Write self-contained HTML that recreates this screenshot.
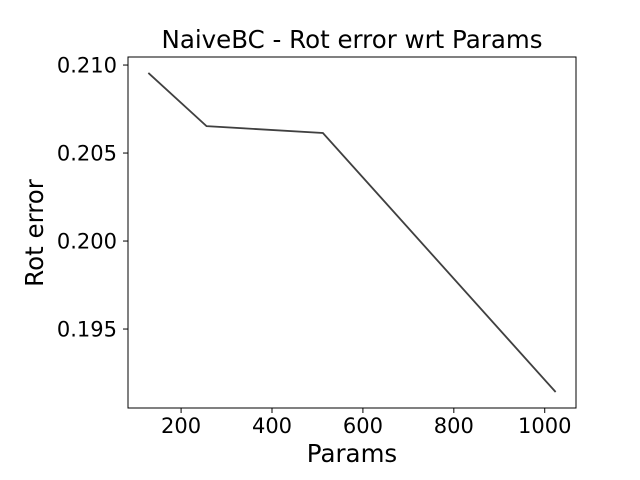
<!DOCTYPE html>
<html><head><meta charset="utf-8"><style>
body{margin:0;background:#fff;}
svg{display:block;font-family:"DejaVu Sans","Liberation Sans",sans-serif;}
</style></head><body>
<svg id="chart" width="640" height="480">
<rect width="640" height="480" fill="#fff"/>
<text x="352" y="48" font-size="24.5" text-anchor="middle" fill="#000">NaiveBC - Rot error wrt Params</text>
<text x="352" y="462" font-size="24.5" text-anchor="middle" fill="#000">Params</text>
<text x="0" y="0" font-size="24.5" text-anchor="middle" fill="#000" transform="translate(43,233) rotate(-90)">Rot error</text>
<g id="ticks"></g>
<g id="series"></g>
<rect x="128" y="57" width="448" height="351" fill="none" stroke="#000" stroke-width="1"/>
</svg>
<script>
const params = [128, 256, 512, 1024];
const rotError = [0.20955, 0.20653, 0.20614, 0.19142];
const xTicks = [200, 400, 600, 800, 1000];
const yTicks = [0.195, 0.200, 0.205, 0.210];
const yTickLabels = ["0.195", "0.200", "0.205", "0.210"];

const L=128,R=576,T=57,B=408;
const xmin=83.2,xmax=1068.8;
const ymin=0.19142-0.000907,ymax=0.20955+0.000907;
function X(v){return L+(v-xmin)/(xmax-xmin)*(R-L);}
function Y(v){return B-(v-ymin)/(ymax-ymin)*(B-T);}
const NS="http://www.w3.org/2000/svg";
const tg=document.getElementById('ticks');
xTicks.forEach(t=>{
  const l=document.createElementNS(NS,'line');
  l.setAttribute('x1',X(t));l.setAttribute('x2',X(t));l.setAttribute('y1',B);l.setAttribute('y2',B+5);l.setAttribute('stroke','#000');
  
  
  tg.appendChild(l);
  const tx=document.createElementNS(NS,'text');
  tx.setAttribute('x',X(t));tx.setAttribute('y',B+25);tx.setAttribute('font-size','21');tx.setAttribute('text-anchor','middle');
  tx.textContent=t;
  
  
  tg.appendChild(tx);
});
yTicks.forEach((t,i)=>{
  const l=document.createElementNS(NS,'line');
  l.setAttribute('x1',L-5);l.setAttribute('x2',L);l.setAttribute('y1',Y(t));l.setAttribute('y2',Y(t));l.setAttribute('stroke','#000');
  
  
  tg.appendChild(l);
  const tx=document.createElementNS(NS,'text');
  tx.setAttribute('x',L-11);tx.setAttribute('y',Y(t)+7.5);tx.setAttribute('font-size','21');tx.setAttribute('text-anchor','end');
  tx.textContent=yTickLabels[i];
  
  
  tg.appendChild(tx);
});
const p=document.createElementNS(NS,'polyline');
p.setAttribute('points',params.map((v,i)=>X(v)+','+Y(rotError[i])).join(' '));
p.setAttribute('fill','none');p.setAttribute('stroke','#404040');p.setAttribute('stroke-width','1.8');


document.getElementById('series').appendChild(p);
</script>
</body></html>
